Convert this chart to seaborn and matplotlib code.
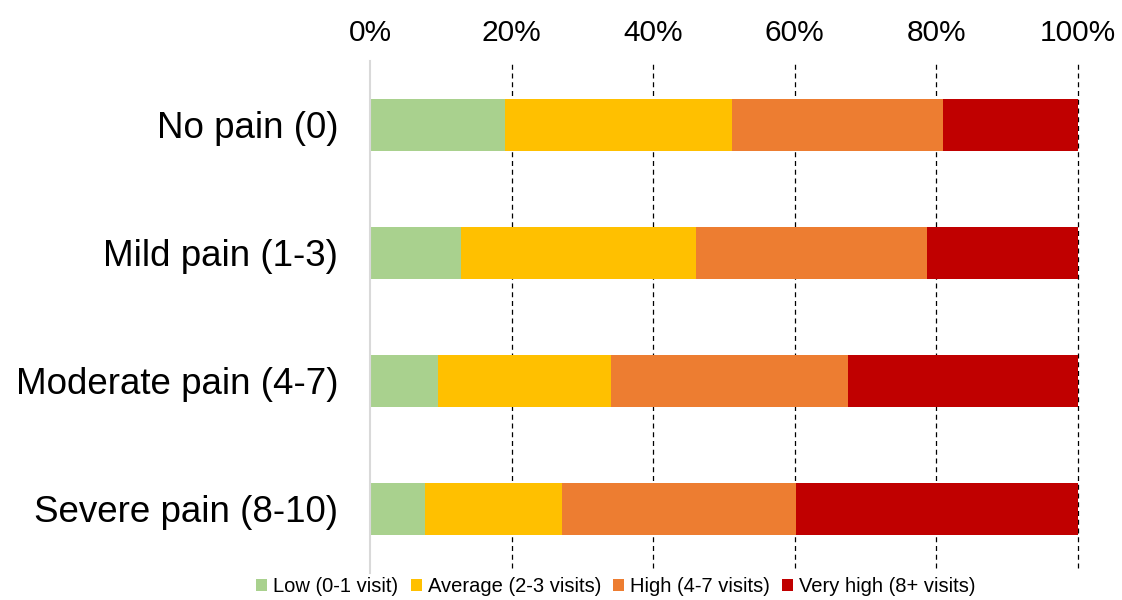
import pandas as pd
import numpy as np
import matplotlib
matplotlib.use('Agg')
import matplotlib.pyplot as plt
from matplotlib.patches import Patch
import seaborn as sns

categories = ['No pain (0)', 'Mild pain (1-3)', 'Moderate pain (4-7)', 'Severe pain (8-10)']
low = [19.1, 12.8, 9.6, 7.8]
average = [32.0, 33.2, 24.4, 19.3]
high = [29.9, 32.7, 33.5, 33.0]
very_high = [19.0, 21.3, 32.5, 39.9]

series_names = ['Low (0-1 visit)', 'Average (2-3 visits)', 'High (4-7 visits)', 'Very high (8+ visits)']
colors = ['#A9D18E', '#FFC000', '#ED7D31', '#C00000']

sns.set_style('white')
plt.rcParams['font.family'] = ['Liberation Sans', 'DejaVu Sans']
plt.rcParams['text.color'] = 'black'
plt.rcParams['xtick.color'] = 'black'
plt.rcParams['ytick.color'] = 'black'

df = pd.DataFrame({'cat': categories, 'low': low, 'average': average,
                   'high': high, 'very_high': very_high})
cols = ['low', 'average', 'high', 'very_high']
cum = df[cols].cumsum(axis=1)

fig = plt.figure(figsize=(11.22, 6), dpi=100)
ax = fig.add_axes([370/1122, 1-573/600, 708/1122, 512/600])

# draw from the outermost cumulative layer inward
for col, c in reversed(list(zip(cols, colors))):
    sns.barplot(x=cum[col], y=df['cat'], color=c, orient='h', width=0.4,
                ax=ax, linewidth=0, saturation=1)

ax.set_xlim(0, 100)
ax.set_xticks([0, 20, 40, 60, 80, 100])
ax.set_xticklabels([f'{v}%' for v in [0, 20, 40, 60, 80, 100]])
ax.xaxis.tick_top()
ax.tick_params(axis='x', labelsize=21.5, length=0, pad=10)
ax.tick_params(axis='y', labelsize=26.5, length=0, pad=23)
ax.set_xlabel('')
ax.set_ylabel('')
for v in [20, 40, 60, 80, 100]:
    ax.axvline(v, color='black', linestyle=(0, (4, 3)), linewidth=0.9, zorder=0,
               clip_on=False, ymin=0.01, ymax=1.0)
for s in ['top', 'right', 'bottom']:
    ax.spines[s].set_visible(False)
ax.spines['left'].set_color('#D9D9D9')
ax.spines['left'].set_linewidth(1.5)
ax.spines['left'].set_bounds(3.5, -0.5)

handles = [Patch(facecolor=c, edgecolor='none', label=n) for c, n in zip(colors, series_names)]
fig.legend(handles=handles, loc='center', bbox_to_anchor=(616/1122, 1-587/600), ncol=4,
           frameon=False, handlelength=0.55, handleheight=0.55,
           handletextpad=0.3, columnspacing=0.6,
           prop={'family': ['Liberation Sans'], 'size': 14.5})

fig.savefig('out.png', dpi=100)
